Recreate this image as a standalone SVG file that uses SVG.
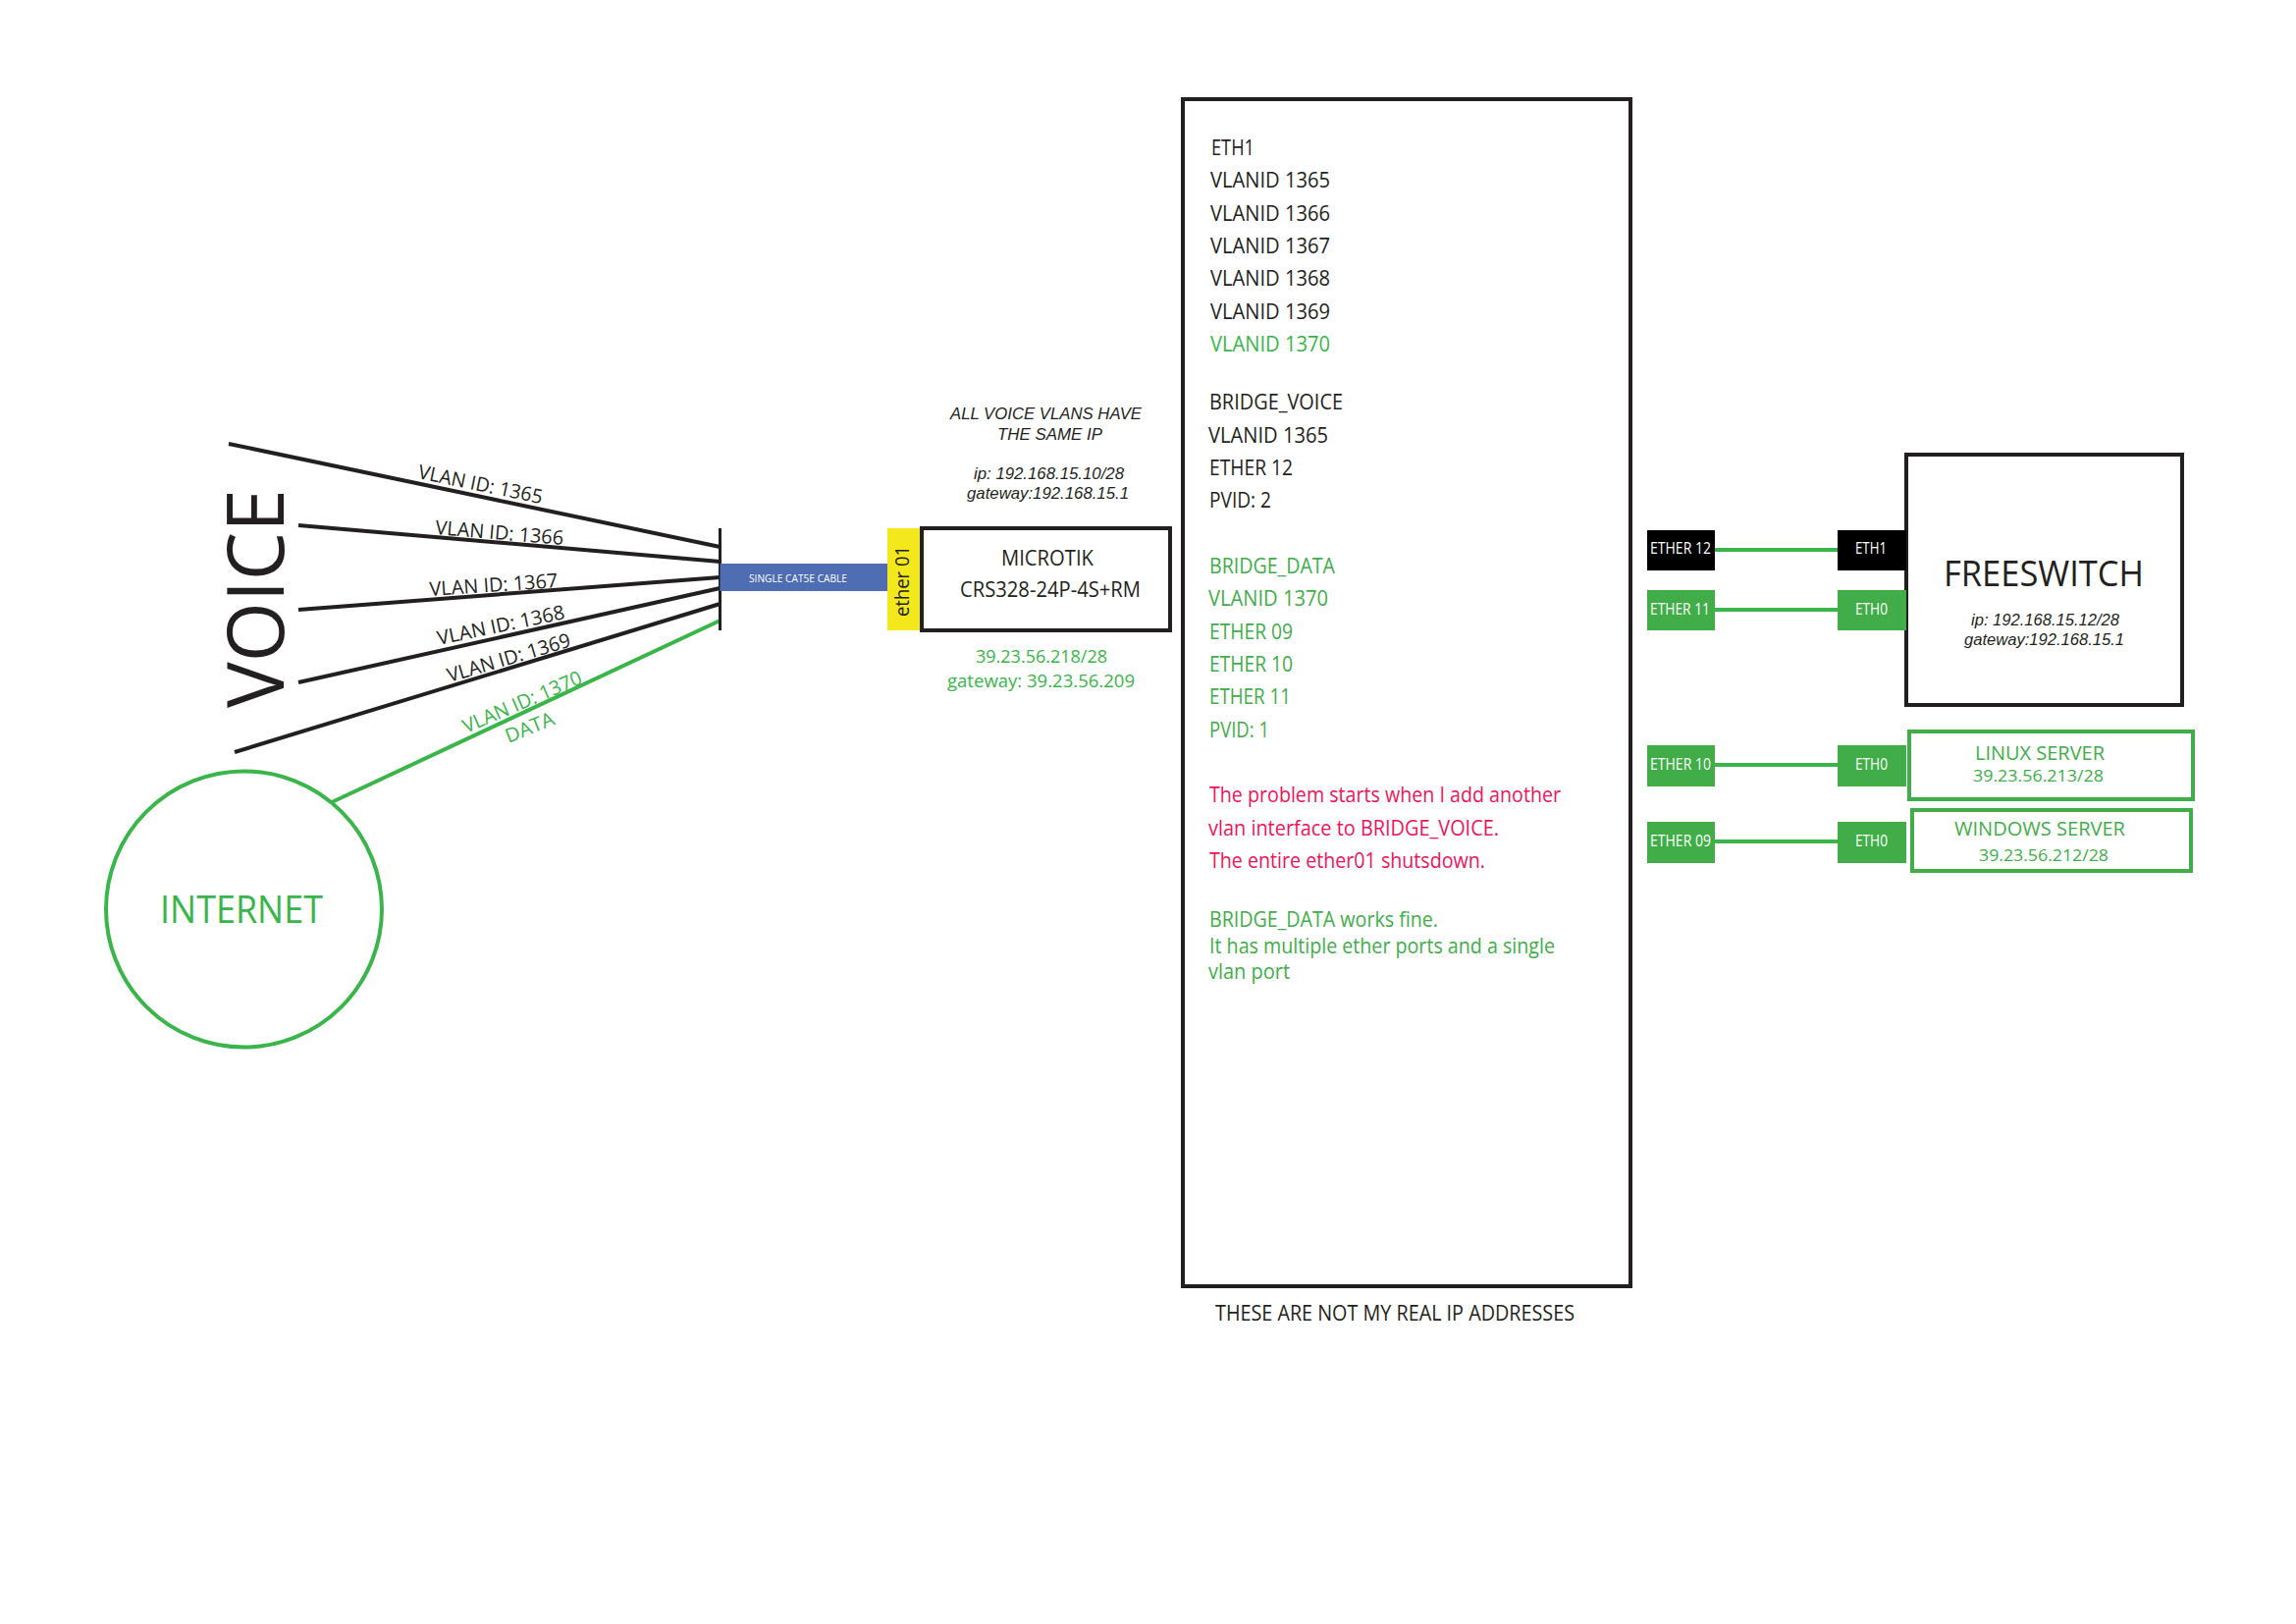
<svg xmlns="http://www.w3.org/2000/svg" width="2339" height="1654" viewBox="0 0 2339 1654">
<style>
text{font-family:"Open Sans","Noto Sans","Liberation Sans",sans-serif;font-size:21px;fill:#231f20}
.g{fill:#39b54a}.g2{fill:#41ad49}.r{fill:#ed145b}.w{fill:#fff}
.i{font-family:"Liberation Sans",Arial,sans-serif;font-style:italic;font-size:16.5px;font-weight:400}
.p{font-size:16px}
.v{font-size:20px}
.box{fill:#fff;stroke:#231f20;stroke-width:4}
.gbox{fill:#fff;stroke:#41ad49;stroke-width:4}
.k{stroke:#231f20;stroke-width:4;fill:none}
.l{stroke:#39b54a;stroke-width:4;fill:none}
</style>
<rect width="2339" height="1654" fill="#fff"/>
<g id="connectors">
<path class="k" d="M233 452L733.5 557M304 535L733.5 572M304 621L733.5 588M304 695L733.5 599M239 766L733.5 615"/>
<path class="l" d="M338 817L733.5 632M1747 560H1872M1747 621H1872M1747 779H1872M1747 857H1872"/>
<path d="M733.5 538V642" stroke="#231f20" stroke-width="3" fill="none"/>
</g>
<g id="voice"><text transform="translate(289 721) rotate(-90)" style="font-size:80px" textLength="223" lengthAdjust="spacingAndGlyphs">VOICE</text></g>
<g id="vlan-labels">
<text class="v" transform="translate(425 487) rotate(11.7)" textLength="129" lengthAdjust="spacingAndGlyphs">VLAN ID: 1365</text>
<text class="v" transform="translate(443 544) rotate(4.8)" textLength="131" lengthAdjust="spacingAndGlyphs">VLAN ID: 1366</text>
<text class="v" transform="translate(438 607) rotate(-3.9)" textLength="131" lengthAdjust="spacingAndGlyphs">VLAN ID: 1367</text>
<text class="v" transform="translate(447 657) rotate(-11.8)" textLength="132" lengthAdjust="spacingAndGlyphs">VLAN ID: 1368</text>
<text class="v" transform="translate(458 695) rotate(-16.5)" textLength="130" lengthAdjust="spacingAndGlyphs">VLAN ID: 1369</text>
<text class="v g" transform="translate(475 747) rotate(-23.3)" textLength="130" lengthAdjust="spacingAndGlyphs">VLAN ID: 1370</text>
<text class="v g" transform="translate(518 757) rotate(-22)" textLength="52" lengthAdjust="spacingAndGlyphs">DATA</text>
</g>
<g id="internet">
<circle cx="248.5" cy="926" r="140.5" fill="#fff" stroke="#39b54a" stroke-width="4"/>
<text class="g" x="163" y="940" style="font-size:38.8px" textLength="166" lengthAdjust="spacingAndGlyphs">INTERNET</text>
</g>
<g id="cable">
<rect x="733.5" y="574" width="172.5" height="28" fill="#4f6db3"/>
<text class="w" x="763" y="593" style="font-size:11.5px" textLength="100" lengthAdjust="spacingAndGlyphs">SINGLE CAT5E CABLE</text>
</g>
<g id="ether01">
<rect x="904" y="538" width="34" height="104" fill="#f2e81c"/>
<text transform="translate(925.5 628) rotate(-90)" style="font-size:20px" textLength="72" lengthAdjust="spacingAndGlyphs">ether 01</text>
</g>
<g id="microtik">
<rect class="box" x="939" y="538" width="253" height="104"/>
<text x="1020" y="576" textLength="94" lengthAdjust="spacingAndGlyphs">MICROTIK</text>
<text x="978" y="608" textLength="184" lengthAdjust="spacingAndGlyphs">CRS328-24P-4S+RM</text>
<text class="g" x="994" y="675" style="font-size:18px" textLength="134" lengthAdjust="spacingAndGlyphs">39.23.56.218/28</text>
<text class="g" x="965" y="700" style="font-size:18px" textLength="191" lengthAdjust="spacingAndGlyphs">gateway:  39.23.56.209</text>
</g>
<g id="voice-note">
<text class="i" x="968" y="427" textLength="195" lengthAdjust="spacingAndGlyphs">ALL VOICE VLANS HAVE</text>
<text class="i" x="1016" y="448" textLength="107" lengthAdjust="spacingAndGlyphs">THE SAME IP</text>
<text class="i" x="992" y="488" textLength="153" lengthAdjust="spacingAndGlyphs">ip: 192.168.15.10/28</text>
<text class="i" x="985" y="508" textLength="165" lengthAdjust="spacingAndGlyphs">gateway:192.168.15.1</text>
</g>
<g id="switch-config">
<rect class="box" x="1205" y="101" width="456" height="1209"/>
<text x="1234" y="158" textLength="44" lengthAdjust="spacingAndGlyphs">ETH1</text>
<text x="1233" y="191" textLength="122" lengthAdjust="spacingAndGlyphs">VLANID 1365</text>
<text x="1233" y="225" textLength="122" lengthAdjust="spacingAndGlyphs">VLANID 1366</text>
<text x="1233" y="258" textLength="122" lengthAdjust="spacingAndGlyphs">VLANID 1367</text>
<text x="1233" y="291" textLength="122" lengthAdjust="spacingAndGlyphs">VLANID 1368</text>
<text x="1233" y="325" textLength="122" lengthAdjust="spacingAndGlyphs">VLANID 1369</text>
<text class="g" x="1233" y="358" textLength="122" lengthAdjust="spacingAndGlyphs">VLANID 1370</text>
<text x="1232" y="417" textLength="136" lengthAdjust="spacingAndGlyphs">BRIDGE_VOICE</text>
<text x="1231" y="451" textLength="122" lengthAdjust="spacingAndGlyphs">VLANID 1365</text>
<text x="1232" y="484" textLength="85" lengthAdjust="spacingAndGlyphs">ETHER 12</text>
<text x="1232" y="517" textLength="63" lengthAdjust="spacingAndGlyphs">PVID: 2</text>
<text class="g2" x="1232" y="584" textLength="128" lengthAdjust="spacingAndGlyphs">BRIDGE_DATA</text>
<text class="g2" x="1231" y="617" textLength="122" lengthAdjust="spacingAndGlyphs">VLANID 1370</text>
<text class="g2" x="1232" y="651" textLength="85" lengthAdjust="spacingAndGlyphs">ETHER 09</text>
<text class="g2" x="1232" y="684" textLength="85" lengthAdjust="spacingAndGlyphs">ETHER 10</text>
<text class="g2" x="1232" y="717" textLength="83" lengthAdjust="spacingAndGlyphs">ETHER 11</text>
<text class="g2" x="1232" y="751" textLength="61" lengthAdjust="spacingAndGlyphs">PVID: 1</text>
<text class="r" x="1232" y="817" textLength="358" lengthAdjust="spacingAndGlyphs">The problem starts when I add another</text>
<text class="r" x="1231" y="851" textLength="296" lengthAdjust="spacingAndGlyphs">vlan interface to BRIDGE_VOICE.</text>
<text class="r" x="1232" y="884" textLength="281" lengthAdjust="spacingAndGlyphs">The entire ether01 shutsdown.</text>
<text class="g2" x="1232" y="944" textLength="233" lengthAdjust="spacingAndGlyphs">BRIDGE_DATA works fine.</text>
<text class="g2" x="1232" y="971" textLength="352" lengthAdjust="spacingAndGlyphs">It has multiple ether ports and a single</text>
<text class="g2" x="1231" y="997" textLength="83" lengthAdjust="spacingAndGlyphs">vlan port</text>
</g>
<g id="footnote"><text x="1238" y="1345" textLength="366" lengthAdjust="spacingAndGlyphs">THESE ARE NOT MY REAL IP ADDRESSES</text></g>
<g id="freeswitch">
<rect class="box" x="1942" y="463" width="281" height="255"/>
<text x="1980" y="597" style="font-size:36px" textLength="204" lengthAdjust="spacingAndGlyphs">FREESWITCH</text>
<text class="i" x="2008" y="637" textLength="151" lengthAdjust="spacingAndGlyphs">ip: 192.168.15.12/28</text>
<text class="i" x="2001" y="657" textLength="163" lengthAdjust="spacingAndGlyphs">gateway:192.168.15.1</text>
</g>
<g id="ports">
<rect x="1678" y="540" width="69" height="41" fill="#000"/><text class="p w" x="1681" y="564" textLength="62" lengthAdjust="spacingAndGlyphs">ETHER 12</text>
<rect x="1678" y="601" width="69" height="41" fill="#41ad49"/><text class="p w" x="1681" y="626" textLength="61" lengthAdjust="spacingAndGlyphs">ETHER 11</text>
<rect x="1678" y="759" width="69" height="42" fill="#41ad49"/><text class="p w" x="1681" y="784" textLength="62" lengthAdjust="spacingAndGlyphs">ETHER 10</text>
<rect x="1678" y="837" width="69" height="42" fill="#41ad49"/><text class="p w" x="1681" y="862" textLength="62" lengthAdjust="spacingAndGlyphs">ETHER 09</text>
<rect x="1872" y="540" width="70" height="41" fill="#000"/><text class="p w" x="1890" y="564" textLength="32" lengthAdjust="spacingAndGlyphs">ETH1</text>
<rect x="1872" y="601" width="70" height="41" fill="#41ad49"/><text class="p w" x="1890" y="626" textLength="33" lengthAdjust="spacingAndGlyphs">ETH0</text>
<rect x="1872" y="759" width="70" height="42" fill="#41ad49"/><text class="p w" x="1890" y="784" textLength="33" lengthAdjust="spacingAndGlyphs">ETH0</text>
<rect x="1872" y="837" width="70" height="42" fill="#41ad49"/><text class="p w" x="1890" y="862" textLength="33" lengthAdjust="spacingAndGlyphs">ETH0</text>
</g>
<g id="linux-server">
<rect class="gbox" x="1945" y="745" width="289" height="69"/>
<text class="g2" x="2012" y="774" style="font-size:20.5px" textLength="132" lengthAdjust="spacingAndGlyphs">LINUX SERVER</text>
<text class="g2" x="2010" y="796" style="font-size:17px" textLength="133" lengthAdjust="spacingAndGlyphs">39.23.56.213/28</text>
</g>
<g id="windows-server">
<rect class="gbox" x="1948" y="825" width="284" height="62"/>
<text class="g2" x="1991" y="851" style="font-size:20.5px" textLength="174" lengthAdjust="spacingAndGlyphs">WINDOWS SERVER</text>
<text class="g2" x="2016" y="877" style="font-size:17px" textLength="132" lengthAdjust="spacingAndGlyphs">39.23.56.212/28</text>
</g>
</svg>
